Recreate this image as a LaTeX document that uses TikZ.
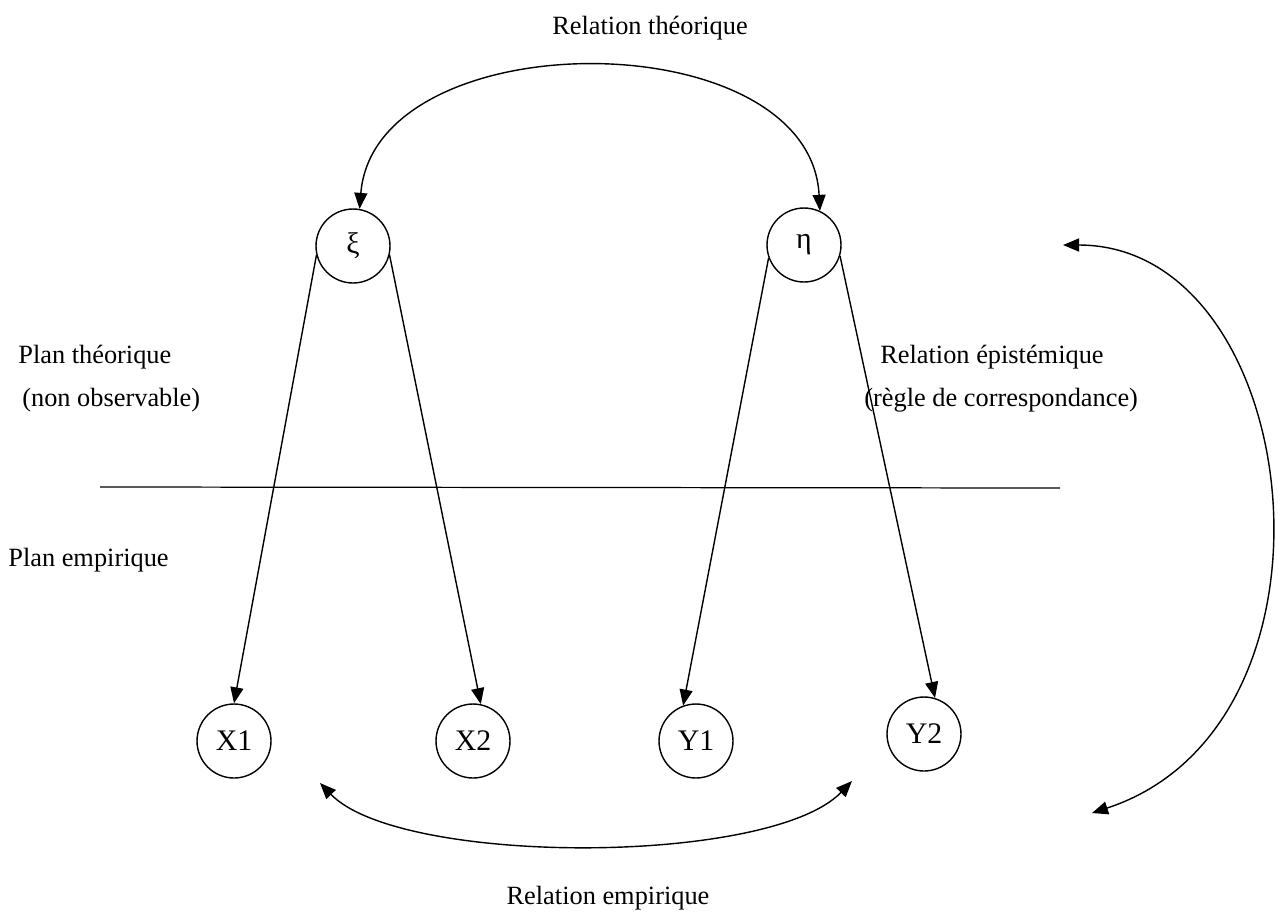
\documentclass[tikz,border=0pt]{standalone}
\usepackage{fontspec}
\setmainfont{Liberation Serif}
\usetikzlibrary{arrows.meta}
\begin{document}
\begin{tikzpicture}[x=0.02cm,y=-0.02cm,
  every node/.style={font=\fontsize{15}{18}\selectfont},
  var/.style={draw,circle,line width=0.8pt,minimum size=1.48cm,inner sep=0pt,font=\fontsize{17}{20}\selectfont},
  link/.style={line width=0.8pt,-{Triangle[length=3.2mm,width=2.6mm]}},
  dlink/.style={line width=0.8pt,{Triangle[length=3.2mm,width=2.6mm]}-{Triangle[length=3.2mm,width=2.6mm]}},
  lbl/.style={inner sep=0pt}]
\useasboundingbox (0,0) rectangle (1278,920);

% latent variables
\node[var] (xi)  at (353,246) {ξ};
\node[var] (eta) at (804,245) {η};
% observed variables
\node[var] (X1) at (234,741) {X1};
\node[var] (X2) at (473,741) {X2};
\node[var] (Y1) at (696,741) {Y1};
\node[var] (Y2) at (924,734) {Y2};

% separating line
\coordinate (sepL) at (100,487);
\coordinate (sepR) at (1060,488);
\draw[line width=0.7pt] (sepL) -- (sepR);

% epistemic links
\draw[link] (xi.194) -- (X1.north);
\draw[link] (xi.346) -- (X2.78);
\draw[link] (eta.200) -- (Y1.110);
\draw[link] (eta.343) -- (Y2.73);

% theoretical relation
\draw[dlink] (xi.80) .. controls (375,20) and (810,20) .. (eta.65);

% empirical relation
\coordinate (empL) at (320,783);
\coordinate (empR) at (852,781);
\draw[dlink] (empL) .. controls (400,866) and (770,866) .. (empR);

% epistemic relation
\coordinate (epiT) at (1063,245);
\coordinate (epiB) at (1092,813);
\draw[dlink] (epiT) .. controls (1305,245) and (1360,725) .. (epiB);

% labels
\node[lbl] (tRelTh) at (650,28) {Relation théorique};
\node[lbl,anchor=west] (tPlanTh) at (18,357) {Plan théorique};
\node[lbl,anchor=west] (tNonObs) at (22,400) {(non observable)};
\node[lbl,anchor=west] (tRelEp) at (880,357) {Relation épistémique};
\node[lbl,anchor=west] (tRegle) at (864,400) {(règle de correspondance)};
\node[lbl,anchor=west] (tPlanEmp) at (8,560) {Plan empirique};
\node[lbl] (tRelEmp) at (608,898) {Relation empirique};
\end{tikzpicture}
\end{document}
